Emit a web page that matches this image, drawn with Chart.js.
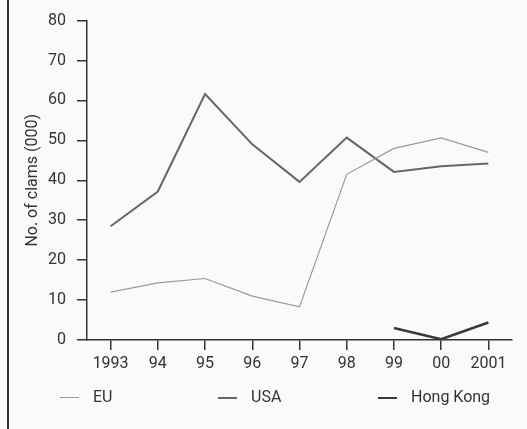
<!DOCTYPE html>
<html>
<head>
<meta charset="utf-8">
<script src="https://cdn.jsdelivr.net/npm/chart.js@4"></script>
<style>
  html, body { margin: 0; padding: 0; background: #fafafa; }
  #wrap { position: relative; width: 527px; height: 429px; }
  #leftBar { position: absolute; left: 7px; top: 0; width: 2px; height: 429px; background: #333; }
  #legend { position: absolute; left: 0; top: 386px; width: 527px; height: 24px;
            font-family: Roboto, sans-serif; font-size: 16px; color: #333; }
  .item { position: absolute; top: 0; line-height: 22px; }
  .swatch { display: inline-block; width: 19px; vertical-align: middle; margin-right: 14px; }
</style>
</head>
<body>
<div id="wrap">
  <canvas id="clamCanvas" width="527" height="429"></canvas>
  <div id="leftBar"></div>
  <div id="legend"></div>
</div>
<script>
// 연도 (x축 라벨)
const years = ['1993', '94', '95', '96', '97', '98', '99', '00', '2001'];

// 시리즈 값 (단위: 천 건)
const euClaims = [12, 14.3, 15.4, 11, 8.3, 41.5, 48, 50.6, 47];
const usaClaims = [28.5, 37.2, 61.6, 49, 39.6, 50.7, 42.1, 43.5, 44.2];
const hongKongClaims = [null, null, null, null, null, null, 3, 0.2, 4.4];

// y축 눈금
const yTicks = [0, 10, 20, 30, 40, 50, 60, 70, 80];

const FONT = 'Roboto, sans-serif';
const INK = '#333';

const seriesStyles = [
  { label: 'EU', data: euClaims, color: '#9a9a9a', width: 1.2, left: 60 },
  { label: 'USA', data: usaClaims, color: '#666', width: 2, left: 218 },
  { label: 'Hong Kong', data: hongKongClaims, color: '#3a3a3a', width: 2.6, left: 378 },
];

// 범례는 HTML로 직접 배치 (항목 간격이 일정하지 않음)
function buildLegend() {
  const legend = document.getElementById('legend');
  seriesStyles.forEach(s => {
    const item = document.createElement('div');
    item.className = 'item';
    item.style.left = s.left + 'px';
    const swatch = document.createElement('span');
    swatch.className = 'swatch';
    swatch.style.borderTop = s.width + 'px solid ' + s.color;
    item.appendChild(swatch);
    item.appendChild(document.createTextNode(s.label));
    legend.appendChild(item);
  });
}

function drawChart() {
  const ctx = document.getElementById('clamCanvas').getContext('2d');
  new Chart(ctx, {
    type: 'line',
    data: {
      labels: years,
      datasets: seriesStyles.map(s => ({
        label: s.label,
        data: s.data,
        borderColor: s.color,
        borderWidth: s.width,
        pointRadius: 0,
        tension: 0,
        fill: false,
      })),
    },
    options: {
      responsive: false,
      animation: false,
      layout: { padding: { top: 20, right: 15, bottom: 59, left: 0 } },
      plugins: { legend: { display: false }, tooltip: { enabled: false } },
      scales: {
        x: {
          offset: true,
          border: { color: INK, width: 1.5 },
          grid: { offset: false, drawOnChartArea: false, tickLength: 10, color: INK, lineWidth: 1.5 },
          ticks: { color: INK, padding: 4, font: { family: FONT, size: 16 }, maxRotation: 0 },
          afterFit: scale => { scale.height = 30; },
        },
        y: {
          min: 0,
          max: 80,
          afterBuildTicks: scale => { scale.ticks = yTicks.map(v => ({ value: v })); },
          border: { color: INK, width: 1.5 },
          grid: { drawOnChartArea: false, tickLength: 10, color: INK, lineWidth: 1.5 },
          ticks: { color: INK, padding: 11, font: { family: FONT, size: 16 } },
          title: {
            display: true,
            text: 'No. of clams (000)',
            color: INK,
            font: { family: FONT, size: 16 },
            padding: { top: 23, bottom: 0 },
          },
          afterFit: scale => { scale.width = 87; },
        },
      },
    },
  });
}

buildLegend();
drawChart();
</script>
</body>
</html>
